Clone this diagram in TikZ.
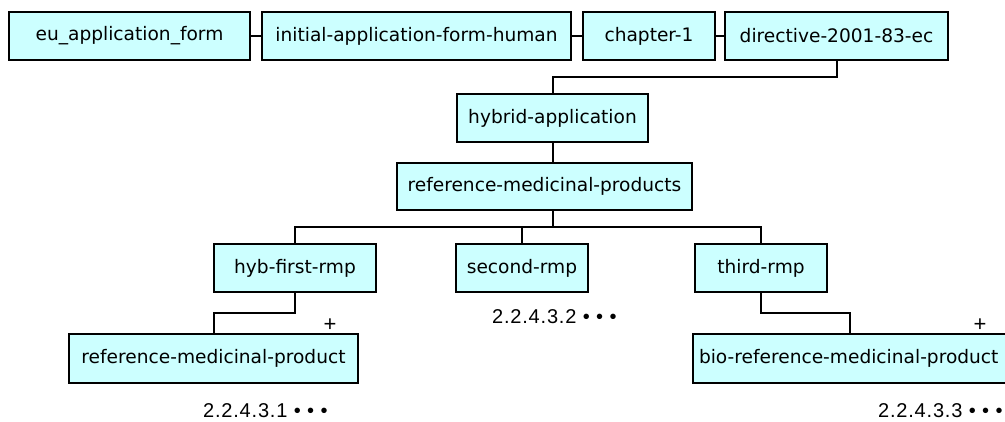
\documentclass[tikz,border=0pt]{standalone}
\usepackage{fontspec}
\newfontfamily\boxfont{DejaVu Sans}
\newfontfamily\numfont[LetterSpace=4]{Liberation Sans}
\newfontfamily\plusfont{Liberation Sans}
\definecolor{boxfill}{HTML}{CCFFFF}
\begin{document}
\begin{tikzpicture}[x=1pt,y=-1pt,
  box/.style={draw=black, fill=boxfill, line width=1.8pt, minimum height=48pt, inner sep=0pt,
              font=\boxfont\fontsize{18.6}{22}\selectfont},
  conn/.style={draw=black, line width=2pt},
  numlbl/.style={inner sep=0pt, anchor=west, font=\numfont\fontsize{20}{24}\selectfont},
  pluslbl/.style={inner sep=0pt, font=\plusfont\fontsize{22}{24}\selectfont}]
\useasboundingbox (0,0) rectangle (1005,421);
\clip (0,0) rectangle (1005,421);
\fill[white] (0,0) rectangle (1005,421);
% top row
\node[box, minimum width=241] (eu) at (129.5,36) {eu\_application\_form};
\node[box, minimum width=309] (init) at (416.5,36) {initial-application-form-human};
\node[box, minimum width=132] (ch1) at (649,36) {chapter-1};
\node[box, minimum width=223] (dir) at (836.5,36) {directive-2001-83-ec};
% middle
\node[box, minimum width=191] (hyb) at (552.5,118) {hybrid-application};
\node[box, minimum width=295, minimum height=47] (rmps) at (544.5,186.5) {reference-medicinal-products};
% children
\node[box, minimum width=162] (first) at (295,268) {hyb-first-rmp};
\node[box, minimum width=132] (second) at (522,268) {second-rmp};
\node[box, minimum width=132] (third) at (761,268) {third-rmp};
\node[box, minimum width=289, minimum height=49] (rmp) at (213.5,358.5) {reference-medicinal-product};
\node[box, minimum width=322, minimum height=49, text width=310, align=left] (bio) at (854,358.5) {bio-reference-medicinal-product};
% coordinates
\coordinate (j1) at (552.5,77);
\coordinate (j2) at (552.5,227);
\coordinate (j3) at (213.5,313);
\coordinate (j4) at (850,313);
% connectors
\draw[conn] (eu.east) -- (init.west);
\draw[conn] (init.east) -- (ch1.west);
\draw[conn] (ch1.east) -- (dir.west);
\draw[conn] (dir.south) |- (j1) -- (hyb.north);
\draw[conn] (hyb.south) -- (hyb.south |- rmps.north);
\draw[conn] (hyb.south |- rmps.south) -- (j2);
\draw[conn] (first.north) |- (j2) -| (third.north);
\draw[conn] (j2 -| second.north) -- (second.north);
\draw[conn] (first.south) |- (j3) -- (rmp.north);
\draw[conn] (third.south) |- (j4) -- (j4 |- bio.north);
% labels
\node[pluslbl] (p1) at (330,325) {+};
\node[pluslbl] (p2) at (980,325) {+};
\node[numlbl] (n1) at (203,410.5) {2.2.4.3.1 • • •};
\node[numlbl] (n2) at (492,317) {2.2.4.3.2 • • •};
\node[numlbl] (n3) at (878,410.5) {2.2.4.3.3 • • •};
\end{tikzpicture}
\end{document}
